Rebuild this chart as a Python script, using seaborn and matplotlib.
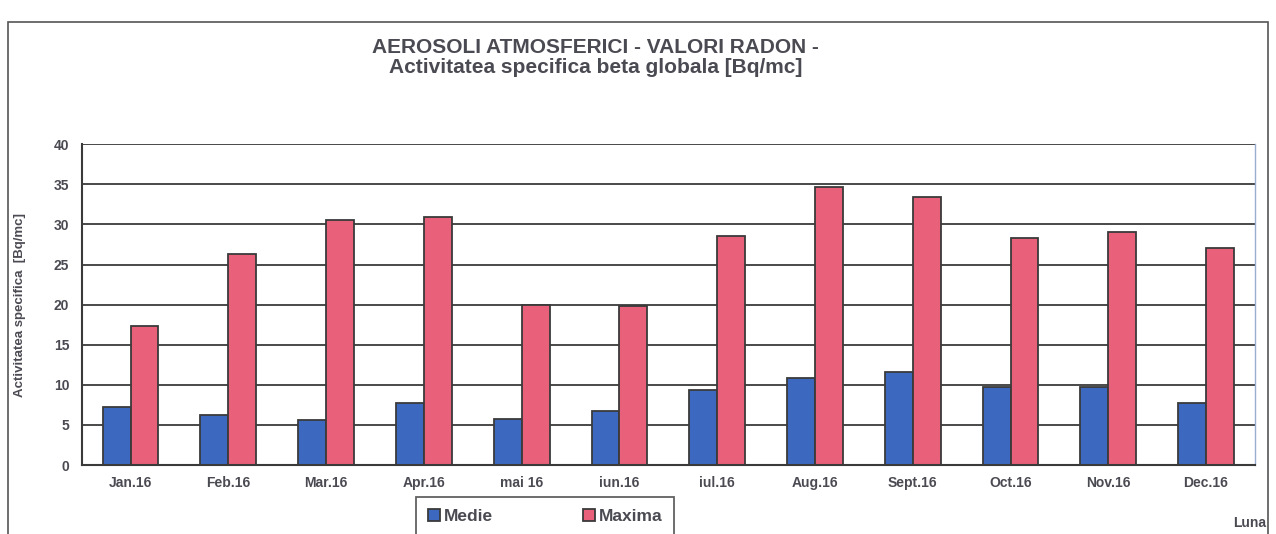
import numpy as np
import pandas as pd

import matplotlib.pyplot as plt
import seaborn as sns
from matplotlib.patches import Rectangle
from matplotlib.ticker import FixedLocator


luni = ['Jan.16', 'Feb.16', 'Mar.16', 'Apr.16', 'mai 16', 'iun.16',
        'iul.16', 'Aug.16', 'Sept.16', 'Oct.16', 'Nov.16', 'Dec.16']
medie = [7.3, 6.2, 5.6, 7.8, 5.7, 6.8, 9.3, 10.8, 11.6, 9.7, 9.7, 7.8]
maxima = [17.3, 26.3, 30.5, 30.9, 19.9, 19.8, 28.5, 34.7, 33.4, 28.3, 29.1, 27.1]

df = pd.DataFrame({'Luna': luni * 2,
                   'valoare': medie + maxima,
                   'serie': ['Medie'] * len(luni) + ['Maxima'] * len(luni)})

sns.set_style('white')
plt.rcParams['font.family'] = ['Liberation Sans', 'DejaVu Sans']
text_col = '#4a4a52'

fig = plt.figure(figsize=(12.76, 5.34), dpi=100)
ax = fig.add_axes([0.064, 0.129, 0.9195, 0.601])

sns.barplot(data=df, x='Luna', y='valoare', hue='serie',
            palette={'Medie': '#3d68c0', 'Maxima': '#e8607a'},
            width=0.57, edgecolor='#3a3a3a', linewidth=1.3,
            saturation=1, legend=True, ax=ax)

ax.set_ylim(0, 40)
ax.set_xlim(-0.5, len(luni) - 0.5)
ax.set_yticks(range(0, 41, 5))
ax.yaxis.grid(True, color='#3a3a3a', linewidth=1.3)
ax.set_axisbelow(True)
ax.xaxis.set_minor_locator(FixedLocator(np.arange(0.5, len(luni) - 0.5, 1)))
ax.tick_params(axis='x', which='major', length=0, pad=8)
ax.tick_params(axis='x', which='minor', length=5, width=1.2, color='#3a3a3a', direction='out')
ax.tick_params(axis='y', length=5, width=1.2, color='#3a3a3a', direction='out', pad=4)
ax.tick_params(labelsize=10, labelcolor=text_col)
for lab in ax.get_xticklabels() + ax.get_yticklabels():
    lab.set_fontweight('bold')

for side in ['left', 'bottom']:
    ax.spines[side].set_color('#3a3a3a')
    ax.spines[side].set_linewidth(1.5)
ax.spines['top'].set_visible(False)
ax.spines['right'].set_color('#9aaed0')
ax.spines['right'].set_linewidth(1)

ax.set_xlabel('')
ax.set_ylabel('Activitatea specifica  [Bq/mc]', fontsize=9.5, fontweight='bold',
              color=text_col, labelpad=20)

fig.text(0.467, 0.893, 'AEROSOLI ATMOSFERICI - VALORI RADON -\nActivitatea specifica beta globala [Bq/mc]',
         ha='center', va='center', fontsize=15, fontweight='bold',
         color=text_col, linespacing=1.05)
fig.text(0.979, 0.02, 'Luna', ha='center', va='center', fontsize=10,
         fontweight='bold', color=text_col)

leg = ax.legend(loc='upper center', bbox_to_anchor=(0.395, -0.098), ncol=2,
                frameon=True, fancybox=False, edgecolor='#3a3a3a',
                handlelength=0.7, handleheight=0.7, handletextpad=0.2,
                columnspacing=5.2, borderpad=0.7, borderaxespad=0,
                prop={'weight': 'bold', 'size': 12.5})
leg.get_frame().set_linewidth(1.3)
for t in leg.get_texts():
    t.set_color(text_col)

# outer frame of the scanned chart
fig.patches.append(Rectangle((0.006, -0.05), 0.988, 1.009, transform=fig.transFigure,
                             fill=False, edgecolor='#555555', linewidth=1.2))

fig.savefig('out.png', dpi=100)
